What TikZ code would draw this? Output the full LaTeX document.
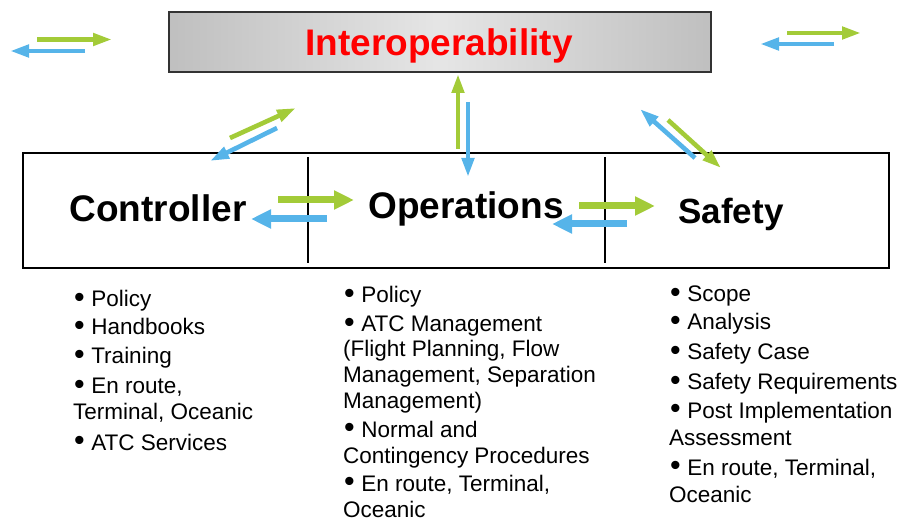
\documentclass[tikz,border=0pt]{standalone}
\usepackage{fontspec}
\usepackage{graphicx}
\setmainfont{Liberation Sans}
\usetikzlibrary{arrows.meta}
\definecolor{agreen}{HTML}{A3CB38}
\definecolor{ablue}{HTML}{56B4E9}
\definecolor{boxedge}{HTML}{333333}
\begin{document}
\begin{tikzpicture}[x=1pt,y=-1pt,
  thinarrow/.style={line width=4.6pt,-{Triangle[length=19pt,width=12pt]}},
  thickarrow/.style={line width=7pt,-{Triangle[length=20pt,width=18pt]}},
  biglabel/.style={font=\bfseries\fontsize{37}{40}\selectfont,inner sep=0pt,anchor=base},
  itemtext/.style={font=\fontsize{22.5}{26}\selectfont,inner sep=0pt,anchor=base west},
  divider/.style={line width=1.3pt,black}]
\useasboundingbox (0,0) rectangle (900,521);
% top box
\shade[left color=black!25,right color=black!25,middle color=black!10] (169,12) rectangle (711,72);
\draw[boxedge,line width=2pt] (169,12) rectangle (711,72);
\node[font=\bfseries\fontsize{37}{40}\selectfont,text=red,inner sep=0pt,anchor=base] (title) at (439,56) {Interoperability};
% main box
\draw[line width=1.3pt] (23,153) rectangle (889,268);
\coordinate (d1t) at (308,157); \coordinate (d1b) at (308,263);
\coordinate (d2t) at (605,157); \coordinate (d2b) at (605,263);
\draw[divider] (d1t) -- (d1b);
\draw[divider] (d2t) -- (d2b);
\node[biglabel] (controller) at (158,222) {Controller};
\node[biglabel] (operations) at (466,219) {Operations};
\node[biglabel,font=\bfseries\fontsize{35}{38}\selectfont] (safety) at (731,224) {Safety};
% arrows: coordinates
\coordinate (tlg1) at (37,39.5); \coordinate (tlg2) at (112,39.5);
\coordinate (tlb1) at (85,51); \coordinate (tlb2) at (10,51);
\coordinate (trg1) at (787,33); \coordinate (trg2) at (861,33);
\coordinate (trb1) at (834,44); \coordinate (trb2) at (760,44);
\coordinate (lg1) at (230,138); \coordinate (lg2) at (296,108);
\coordinate (lb1) at (277,128); \coordinate (lb2) at (210,161);
\coordinate (cg1) at (458,149); \coordinate (cg2) at (458,74);
\coordinate (cb1) at (468,102); \coordinate (cb2) at (468,177);
\coordinate (rb1) at (695,158); \coordinate (rb2) at (640,109);
\coordinate (rg1) at (668,120); \coordinate (rg2) at (721,168);
\coordinate (mlg1) at (278,200); \coordinate (mlg2) at (354,200);
\coordinate (mlb1) at (327,219); \coordinate (mlb2) at (251,219);
\coordinate (mrg1) at (579,206); \coordinate (mrg2) at (655,206);
\coordinate (mrb1) at (627,224); \coordinate (mrb2) at (552,224);
\draw[thinarrow,agreen] (tlg1) -- (tlg2);
\draw[thinarrow,ablue] (tlb1) -- (tlb2);
\draw[thinarrow,agreen] (trg1) -- (trg2);
\draw[thinarrow,ablue] (trb1) -- (trb2);
\draw[thinarrow,agreen] (lg1) -- (lg2);
\draw[thinarrow,ablue] (lb1) -- (lb2);
\draw[thinarrow,agreen] (cg1) -- (cg2);
\draw[thinarrow,ablue] (cb1) -- (cb2);
\draw[thinarrow,ablue] (rb1) -- (rb2);
\draw[thinarrow,agreen] (rg1) -- (rg2);
\draw[thickarrow,agreen] (mlg1) -- (mlg2);
\draw[thickarrow,ablue] (mlb1) -- (mlb2);
\draw[thickarrow,agreen] (mrg1) -- (mrg2);
\draw[thickarrow,ablue] (mrb1) -- (mrb2);
% lists
\newcommand{\bul}{\hskip 1pt\raisebox{-0.4pt}{\scalebox{1.35}{•}}\hskip 6.5pt}
\node[itemtext] (a1) at (73,307) {\bul Policy};
\node[itemtext] (a2) at (73,335) {\bul Handbooks};
\node[itemtext] (a3) at (73,364) {\bul Training};
\node[itemtext] (a4) at (73,394) {\bul En route,};
\node[itemtext] (a5) at (73,420) {Terminal, Oceanic};
\node[itemtext] (a6) at (73,450) {\bul ATC Services};
\node[itemtext] (b1) at (343,303) {\bul Policy};
\node[itemtext] (b2) at (343,332) {\bul ATC Management};
\node[itemtext] (b3) at (343,357) {(Flight Planning, Flow};
\node[itemtext] (b4) at (343,383) {Management, Separation};
\node[itemtext] (b5) at (343,408) {Management)};
\node[itemtext] (b6) at (343,437) {\bul Normal and};
\node[itemtext] (b7) at (343,463) {Contingency Procedures};
\node[itemtext] (b8) at (343,491) {\bul En route, Terminal,};
\node[itemtext] (b9) at (343,517) {Oceanic};
\node[itemtext] (c1) at (669,302) {\bul Scope};
\node[itemtext] (c2) at (669,330) {\bul Analysis};
\node[itemtext] (c3) at (669,360) {\bul Safety Case};
\node[itemtext] (c4) at (669,390) {\bul Safety Requirements};
\node[itemtext] (c5) at (669,418) {\bul Post Implementation};
\node[itemtext] (c6) at (669,445) {Assessment};
\node[itemtext] (c7) at (669,475) {\bul En route, Terminal,};
\node[itemtext] (c8) at (669,502) {Oceanic};
\end{tikzpicture}
\end{document}
